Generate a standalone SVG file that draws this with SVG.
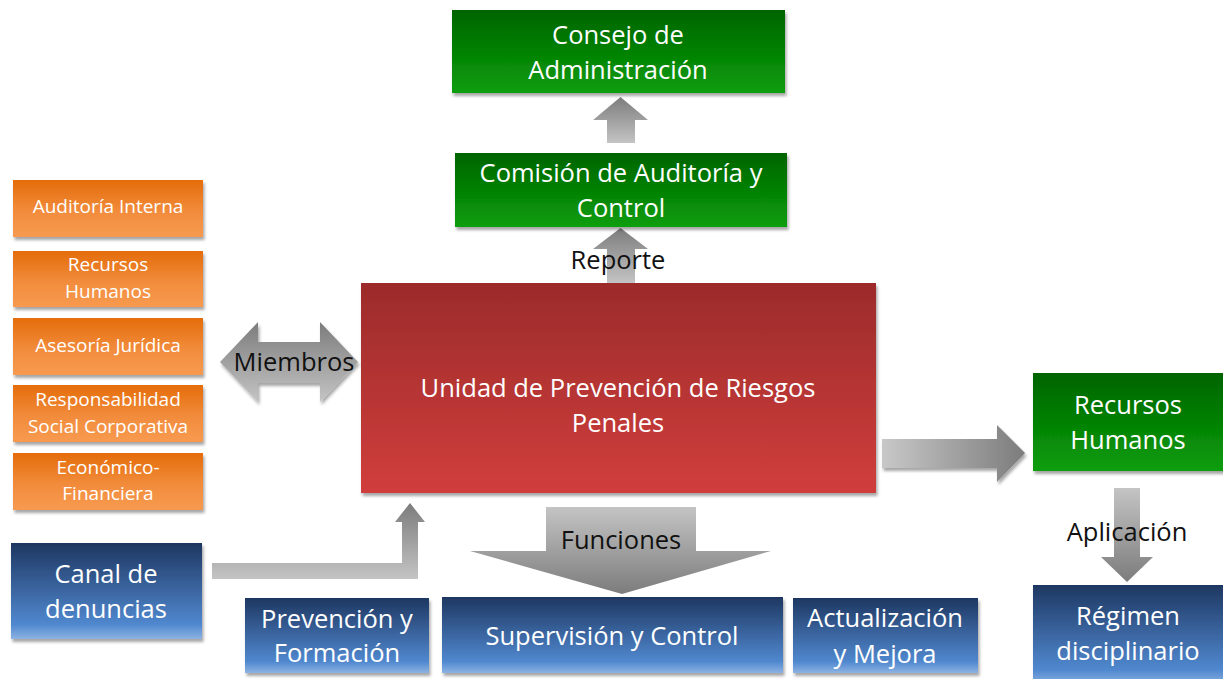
<svg xmlns="http://www.w3.org/2000/svg" width="1223" height="679" viewBox="0 0 1223 679">
<defs>
<linearGradient id="gOrange" x1="0" y1="0" x2="0" y2="1"><stop offset="0" stop-color="#e46c0a"/><stop offset="0.55" stop-color="#f28c3c"/><stop offset="1" stop-color="#f79a50"/></linearGradient>
<linearGradient id="gGreen" x1="0" y1="0" x2="0" y2="1"><stop offset="0" stop-color="#006400"/><stop offset="1" stop-color="#0a9e0a"/></linearGradient>
<linearGradient id="gBlue" x1="0" y1="0" x2="0" y2="1"><stop offset="0" stop-color="#1e3761"/><stop offset="0.85" stop-color="#5088cf"/><stop offset="1" stop-color="#8db3e2"/></linearGradient>
<linearGradient id="gRed" x1="0" y1="0" x2="0" y2="1"><stop offset="0" stop-color="#9c2b2b"/><stop offset="1" stop-color="#d03e3c"/></linearGradient>
<linearGradient id="gDown" x1="0" y1="0" x2="0" y2="1"><stop offset="0" stop-color="#c4c4c4"/><stop offset="1" stop-color="#7c7c7c"/></linearGradient>
<linearGradient id="gUp" x1="0" y1="0" x2="0" y2="1"><stop offset="0" stop-color="#7c7c7c"/><stop offset="1" stop-color="#c4c4c4"/></linearGradient>
<linearGradient id="gRight" x1="0" y1="0" x2="1" y2="0"><stop offset="0" stop-color="#c8c8c8"/><stop offset="1" stop-color="#7c7c7c"/></linearGradient>
<filter id="sh" x="-10%" y="-10%" width="120%" height="130%"><feDropShadow dx="1.5" dy="3" stdDeviation="1.8" flood-color="#000" flood-opacity="0.35"/></filter>
</defs>
<style>
text{font-family:"Open Sans","Noto Sans","Liberation Sans",sans-serif;text-anchor:middle;dominant-baseline:central}
.w{fill:#fff;font-size:25.5px}
.s{fill:#fff;font-size:19px}
.k{fill:#111;font-size:25.5px}
.or{fill:url(#gOrange);filter:url(#sh)}
.gr{fill:url(#gGreen);filter:url(#sh)}
.bl{fill:url(#gBlue);filter:url(#sh)}
.rd{fill:url(#gRed);filter:url(#sh)}
</style>
<rect width="1223" height="679" fill="#fff"/>

<g id="connectors">
<polygon points="607,143 607,120 593,120 620.5,97 648,120 635,120 635,143" fill="url(#gUp)"/>
<polygon points="607,283 607,249 593,249 620.5,228 648,249 635,249 635,283" fill="url(#gUp)"/>
<polygon points="220,362 258,322 258,342 320,342 320,322 358,362 320,402 320,383 258,383 258,402" fill="url(#gUp)" filter="url(#sh)"/>
<polygon points="882,439 997,439 997,425 1025,453 997,482 997,468 882,468" fill="url(#gRight)" filter="url(#sh)"/>
<polygon points="1114,488 1140,488 1140,557 1153,557 1127,582 1101,557 1114,557" fill="url(#gDown)"/>
<polygon points="546,507 696,507 696,551 771,551 622,594 470,551 546,551" fill="url(#gDown)"/>
<polygon points="212,563 402,563 402,522 395,522 410,503 425,522 418,522 418,579 212,579" fill="url(#gUp)"/>
<text class="k" x="618" y="259">Reporte</text>
<text class="k" x="294" y="361">Miembros</text>
<text class="k" x="621" y="539">Funciones</text>
<text class="k" x="1127" y="531">Aplicación</text>
</g>

<g id="consejo"><rect class="gr" x="452" y="10" width="333" height="83"/><text class="w" x="618" y="34">Consejo de</text><text class="w" x="618" y="69">Administración</text></g>
<g id="comision"><rect class="gr" x="455" y="153" width="332" height="74"/><text class="w" x="621" y="172">Comisión de Auditoría y</text><text class="w" x="621" y="207">Control</text></g>

<g id="auditoria"><rect class="or" x="13" y="180" width="190" height="57"/><text class="s" x="108" y="206">Auditoría Interna</text></g>
<g id="rrhh-miembro"><rect class="or" x="13" y="251" width="190" height="56"/><text class="s" x="108" y="264">Recursos</text><text class="s" x="108" y="291">Humanos</text></g>
<g id="asesoria"><rect class="or" x="13" y="318" width="190" height="57"/><text class="s" x="108" y="345">Asesoría Jurídica</text></g>
<g id="rsc"><rect class="or" x="13" y="385" width="190" height="57"/><text class="s" x="108" y="399">Responsabilidad</text><text class="s" x="108" y="426">Social Corporativa</text></g>
<g id="economico"><rect class="or" x="13" y="453" width="190" height="57"/><text class="s" x="108" y="467">Económico-</text><text class="s" x="108" y="493">Financiera</text></g>

<g id="unidad"><rect class="rd" x="361" y="283" width="515" height="210"/><text class="w" x="618" y="387">Unidad de Prevención de Riesgos</text><text class="w" x="618" y="422">Penales</text></g>

<g id="rrhh"><rect class="gr" x="1033" y="373" width="200" height="98"/><text class="w" x="1128" y="404">Recursos</text><text class="w" x="1128" y="439">Humanos</text></g>
<g id="regimen"><rect class="bl" x="1033" y="585" width="200" height="100"/><text class="w" x="1128" y="615">Régimen</text><text class="w" x="1128" y="650">disciplinario</text></g>

<g id="canal"><rect class="bl" x="11" y="543" width="191" height="96"/><text class="w" x="106" y="573">Canal de</text><text class="w" x="106" y="608">denuncias</text></g>
<g id="prevencion"><rect class="bl" x="245" y="598" width="184" height="75"/><text class="w" x="337" y="618">Prevención y</text><text class="w" x="337" y="652">Formación</text></g>
<g id="supervision"><rect class="bl" x="442" y="597" width="341" height="76"/><text class="w" x="612" y="635">Supervisión y Control</text></g>
<g id="actualizacion"><rect class="bl" x="793" y="598" width="185" height="75"/><text class="w" x="885" y="617">Actualización</text><text class="w" x="885" y="653">y Mejora</text></g>
</svg>
